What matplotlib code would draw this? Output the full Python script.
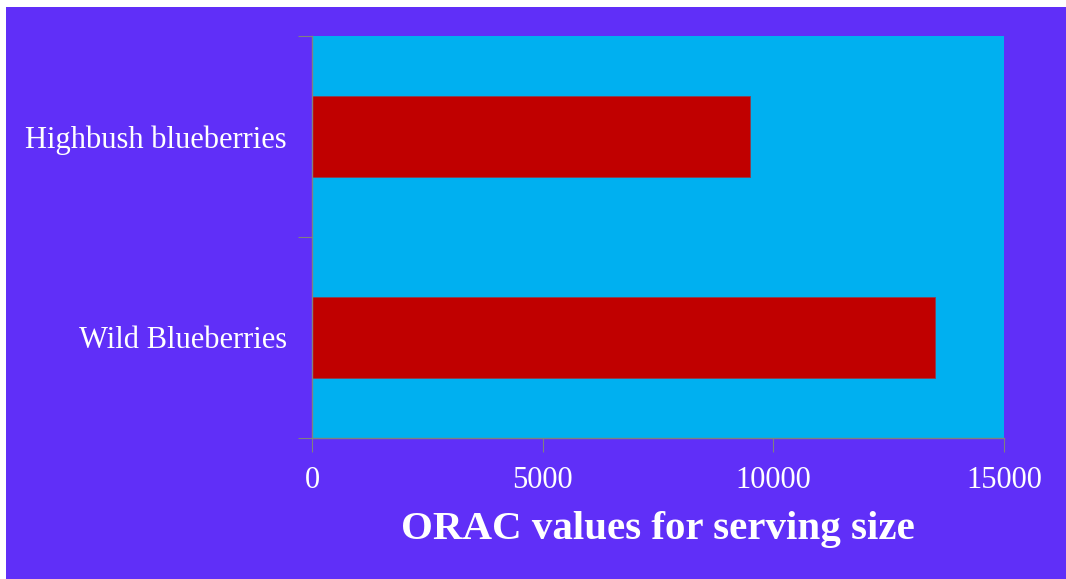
import matplotlib.pyplot as plt
from matplotlib.patches import Rectangle

# ORAC values per serving
categories = ["Wild Blueberries", "Highbush blueberries"]
orac_values = [13500, 9500]
x_ticks = [0, 5000, 10000, 15000]

purple = "#602FF8"
cyan = "#00B0F0"
red = "#C00000"

plt.rcParams["font.family"] = ["Liberation Serif", "DejaVu Serif"]

fig = plt.figure(figsize=(10.66, 5.79), dpi=100, facecolor="white")
W, H = 1066, 579

# purple slide background, leaving a thin white margin top and left
fig.patches.append(
    Rectangle((6 / W, 0), 1, (H - 7) / H, transform=fig.transFigure,
              facecolor=purple, edgecolor="none", zorder=-1)
)

ax = fig.add_axes([312 / W, 1 - 438 / H, (1004 - 312) / W, (438 - 36) / H])
ax.set_facecolor(cyan)

ax.barh(range(len(categories)), orac_values, height=0.4, color=red,
        edgecolor="#8a4050", linewidth=0.6)

ax.set_xlim(0, 15000)
ax.set_ylim(-0.5, 1.5)
ax.set_xticks(x_ticks)
ax.set_xticklabels([str(v) for v in x_ticks])
ax.set_yticks([-0.5, 0.5, 1.5])
ax.set_yticklabels([])
ax.set_yticks(range(len(categories)), minor=True)
ax.set_yticklabels(categories, minor=True)

for side in ["top", "right"]:
    ax.spines[side].set_visible(False)
for side in ["left", "bottom"]:
    ax.spines[side].set_color("#808080")
    ax.spines[side].set_linewidth(1.0)

ax.tick_params(axis="x", which="major", length=10, color="#808080",
               labelcolor="white", labelsize=22, pad=10)
ax.tick_params(axis="y", which="major", length=10, color="#808080")
ax.tick_params(axis="y", which="minor", length=0, labelcolor="white",
               labelsize=22, pad=18)

ax.set_xlabel("ORAC values for serving size", color="white", fontsize=29.5,
              fontweight="bold", labelpad=12)

fig.savefig("out.png", dpi=100, facecolor=fig.get_facecolor())
